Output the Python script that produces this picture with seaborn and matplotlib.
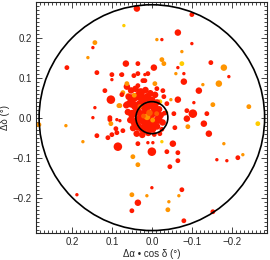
import pandas as pd
import seaborn as sns
import matplotlib.pyplot as plt
from matplotlib.patches import Circle
from matplotlib.ticker import MultipleLocator

# offsets in degrees, grouped by region of the map
# colour class: r = red, d = dark orange, o = orange, y = yellow
# size class: 1 small .. 4 large

# upper left
dra_nw = [0.07, 0.1425, 0.1475, 0.16, 0.2125, 0.1375, 0.065, 0.0775, 0.10, 0.0625,
          0.0725, 0.1175, 0.1025, 0.0825, 0.1475, 0.105, 0.2825, 0.215, 0.1425, 0.10,
          0.075, 0.045, 0.035, 0.0175, 0.0625, 0.035, 0.0175, 0.075, 0.06, 0.05,
          0.08, 0.0625, 0.0475, 0.105, 0.1025, 0.0875, 0.08]
ddec_nw = [0.23, 0.1875, 0.175, 0.15, 0.125, 0.1125, 0.135, 0.1075, 0.095, 0.0775,
           0.0625, 0.0675, 0.045, 0.03, 0.0, 0.0, -0.0175, -0.02, 0.025, 0.1075,
           0.1075, 0.105, 0.11, 0.1075, 0.085, 0.08, 0.0925, 0.0575, 0.055, 0.0475,
           0.03, 0.035, 0.03, -0.005, -0.015, -0.005, -0.0075]
col_nw = "yororrrrrr" "orrorroorr" "rrrrorrror" "orrrorr"
sz_nw = [1, 2, 1, 1, 2, 2, 3, 1, 1, 3,
         2, 2, 4, 2, 1, 2, 2, 1, 1, 2,
         2, 2, 2, 1, 2, 2, 2, 2, 2, 2,
         2, 2, 2, 2, 2, 1, 1]

# upper right
dra_ne = [0.0375, -0.1, -0.065, -0.0125, -0.025, -0.1, -0.075, -0.025, -0.03, -0.075,
          -0.1475, 0.035, -0.005, -0.18, -0.065, -0.06, -0.08, -0.1925, -0.08, -0.1675,
          -0.1275, -0.1175, -0.0075, 0.0225, 0.01, -0.0125, -0.0275, -0.03, -0.0475, -0.065,
          -0.02, -0.105, -0.1525, -0.2425, -0.0875, -0.1025, -0.055, -0.0875, -0.035, -0.1375,
          -0.13, -0.09, -0.0575, -0.265, -0.0375]
ddec_ne = [0.2725, 0.2575, 0.2125, 0.195, 0.195, 0.185, 0.165, 0.145, 0.135, 0.135,
           0.1375, 0.135, 0.125, 0.125, 0.125, 0.11, 0.11, 0.1025, 0.09, 0.085,
           0.0825, 0.0675, 0.085, 0.0925, 0.11, 0.0725, 0.0675, 0.0525, 0.045, 0.045,
           0.04, 0.0375, 0.0325, 0.0275, 0.0175, 0.01, 0.01, -0.0025, 0.0125, 0.01,
           -0.015, -0.0225, -0.025, -0.015, 0.035]
col_ne = "rrrorroooy" "rrrororrro" "ororrrrror" "yroorrrror" "roryr"
sz_ne = [3, 2, 3, 1, 1, 1, 1, 2, 2, 2,
         2, 2, 3, 3, 1, 1, 1, 1, 3, 3,
         1, 3, 2, 2, 2, 2, 2, 2, 1, 3,
         2, 1, 2, 2, 2, 4, 2, 3, 2, 2,
         3, 2, 2, 2, 2]

# lower right
dra_se = [-0.1425, -0.18, -0.0525, 0.035, 0.01, -0.0025, -0.0375, -0.065, 0.0, -0.1625,
          -0.1875, -0.215, -0.2275, 0.035, -0.045, -0.065, -0.075, 0.0, 0.0125, -0.0675,
          -0.0425, -0.04, 0.035, -0.1525, -0.08, -0.025]
ddec_se = [-0.04, -0.065, -0.065, -0.065, -0.0625, -0.0625, -0.085, -0.0875, -0.085, -0.105,
           -0.1075, -0.1, -0.0925, -0.1175, -0.1225, -0.1075, -0.18, -0.175, -0.195, -0.195,
           -0.21, -0.23, -0.2125, -0.235, -0.2575, -0.06]
col_se = "rorrrrrrrr" "rroorrrroo" "oorrry"
sz_se = [3, 1, 3, 2, 1, 1, 2, 2, 4, 1,
         1, 2, 1, 2, 2, 2, 2, 1, 1, 1,
         1, 2, 3, 2, 2, 1]

# lower left
dra_sw = [0.1375, 0.1725, 0.11, 0.10, 0.0875, 0.0725, 0.085, 0.0475, 0.1875, 0.05,
          0.05, 0.09]
ddec_sw = [-0.045, -0.06, -0.05, -0.0425, -0.0375, -0.0325, -0.0725, -0.0975, -0.1925, -0.1925,
           -0.2325, -0.0275]
col_sw = "rorrrrroro" "rr"
sz_sw = [2, 1, 2, 2, 2, 2, 4, 2, 1, 2,
         2, 2]

# dense core around the centre
dra_core = [0.052, 0.041, 0.028, 0.016, 0.004, -0.008, 0.058, 0.046, 0.034, 0.022,
            0.011, -0.001, -0.013, 0.064, 0.053, 0.041, 0.029, 0.018, 0.006, -0.006,
            -0.018, 0.060, 0.049, 0.037, 0.026, 0.014, 0.002, -0.010, -0.022, -0.031,
            0.054, 0.043, 0.031, 0.019, 0.008, -0.004, -0.016, -0.027, 0.047, 0.035,
            0.023, 0.011, -0.001, -0.013, -0.025, 0.038, 0.024, 0.009, -0.006, -0.020,
            0.012, 0.006, -0.002, 0.021, 0.030, 0.044, -0.012]
ddec_core = [0.068, 0.072, 0.063, 0.069, 0.061, 0.057, 0.052, 0.049, 0.054, 0.046,
             0.051, 0.044, 0.038, 0.031, 0.036, 0.029, 0.034, 0.027, 0.032, 0.026,
             0.021, 0.014, 0.009, 0.016, 0.008, 0.015, 0.009, 0.013, 0.006, 0.011,
             -0.006, -0.011, -0.004, -0.009, -0.003, -0.010, -0.005, -0.012, -0.026, -0.022,
             -0.028, -0.021, -0.027, -0.022, -0.029, -0.040, -0.043, -0.038, -0.042, -0.040,
             0.002, 0.012, -0.006, 0.004, 0.028, 0.056, 0.010]
col_core = "r" * 50 + "ododdod"
sz_core = [3, 3, 4, 3, 3, 3, 3, 4, 4, 4,
           4, 3, 3, 3, 4, 4, 4, 4, 4, 4,
           3, 3, 4, 4, 4, 4, 4, 4, 3, 2,
           3, 4, 4, 4, 4, 4, 4, 3, 3, 4,
           4, 4, 4, 3, 2, 3, 3, 3, 2, 2,
           3, 3, 2, 2, 2, 2, 2]

frames = []
for name, xs, ys, cs, ss in [("nw", dra_nw, ddec_nw, col_nw, sz_nw),
                             ("ne", dra_ne, ddec_ne, col_ne, sz_ne),
                             ("se", dra_se, ddec_se, col_se, sz_se),
                             ("sw", dra_sw, ddec_sw, col_sw, sz_sw),
                             ("core", dra_core, ddec_core, col_core, sz_core)]:
    assert len(xs) == len(ys) == len(cs) == len(ss), name
    frames.append(pd.DataFrame({"dra": xs, "ddec": ys, "col": list(cs), "sz": ss}))
df = pd.concat(frames, ignore_index=True)

sns.set_style("ticks")
plt.rcParams["font.family"] = ["Liberation Sans", "DejaVu Sans"]

fig = plt.figure(figsize=(2.7, 2.6), dpi=100)
ax = fig.add_axes([0.133, 0.104, 0.856, 0.89])

pal = {"r": "#ff1a00", "d": "#ff5a00", "o": "#ff9500", "y": "#ffcc00"}
sns.scatterplot(data=df, x="dra", y="ddec", hue="col", size="sz",
                palette=pal, sizes={1: 6, 2: 12, 3: 22, 4: 38},
                linewidth=0, legend=False, ax=ax, zorder=2)

ax.add_patch(Circle((0, 0), 0.282, fill=False, color="black", lw=1.2, zorder=3))
ax.add_patch(Circle((0, 0), 0.04, fill=False, color="black", lw=1.2, zorder=3))

ax.set_xlim(0.29, -0.288)
ax.set_ylim(-0.288, 0.29)
ax.xaxis.set_major_locator(MultipleLocator(0.1))
ax.yaxis.set_major_locator(MultipleLocator(0.1))
ax.xaxis.set_minor_locator(MultipleLocator(0.01))
ax.yaxis.set_minor_locator(MultipleLocator(0.01))
ax.tick_params(which="both", direction="in", top=True, right=True,
               width=0.6, labelsize=7, pad=3)
ax.tick_params(which="major", length=4)
ax.tick_params(which="minor", length=2)
for s in ax.spines.values():
    s.set_linewidth(0.8)

ax.set_xlabel("Δα • cos δ (°)", fontsize=7, labelpad=1)
ax.set_ylabel("Δδ (°)", fontsize=7, labelpad=2)

fig.savefig("out.png", dpi=100)
